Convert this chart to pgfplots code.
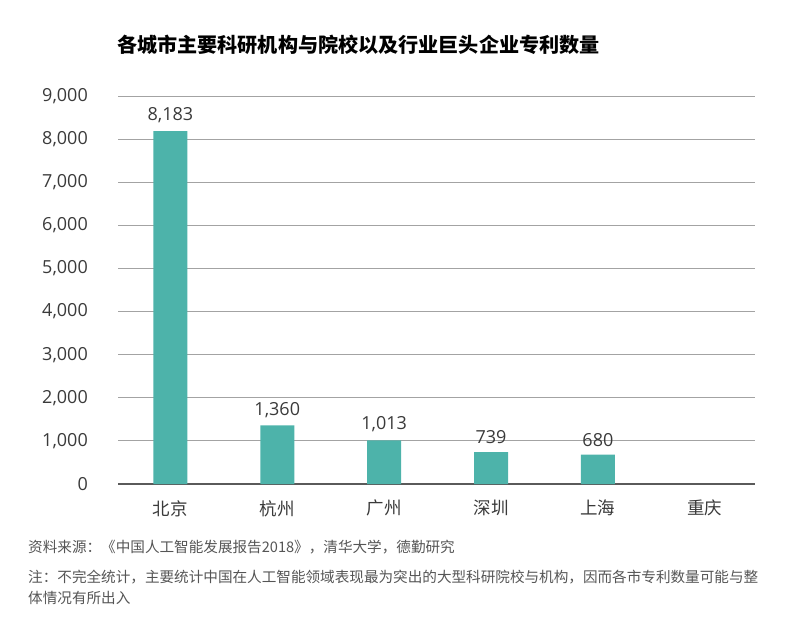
\documentclass[border=0pt]{standalone}
\usepackage{pgfplots}
\pgfplotsset{compat=1.18}
\usepackage{fontspec}
\setmainfont{Open Sans}
\newfontfamily\cjk{Noto Sans CJK SC}
\definecolor{barteal}{HTML}{4DB3AA}
\definecolor{gridgray}{HTML}{A3A3A3}
\definecolor{axisgray}{HTML}{5A5A5A}
\definecolor{txt}{HTML}{3A3A3A}
\definecolor{foot}{HTML}{555555}
\begin{document}
\begin{tikzpicture}[x=1pt,y=1pt]
\path[use as bounding box] (0,0) rectangle (800,641);
\node[anchor=west, inner sep=0pt, text=black] at (117,596) {\cjk\bfseries\fontsize{20.1}{23}\selectfont 各城市主要科研机构与院校以及行业巨头企业专利数量};
\begin{axis}[
  at={(118pt,157pt)}, anchor=south west,
  scale only axis, width=637pt, height=388pt,
  ymin=0, ymax=9000, xmin=-0.49, xmax=5.47,
  ybar, bar width=34pt,
  xtick={0,1,2,3,4,5},
  xticklabels={北京,杭州,广州,深圳,上海,重庆},
  ytick={0,1000,...,9000},
  major tick length=0pt,
  axis x line*=bottom,
  axis y line*=left,
  y axis line style={draw=none},
  x axis line style={draw=axisgray, line width=2.2pt, -},
  ymajorgrids,
  grid style={draw=gridgray, line width=0.9pt},
  /pgf/number format/.cd, 1000 sep={,}, assume math mode=true,
  /pgfplots/.cd,
  yticklabel style={inner sep=0pt, xshift=-30pt, text=txt, font=\fontsize{18}{20}\selectfont},
  xticklabel style={inner sep=0pt, yshift=-16pt, text=txt, font=\cjk\fontsize{17.5}{19}\selectfont},
  nodes near coords,
  nodes near coords style={text=txt, yshift=4.5pt, font=\fontsize{18}{20}\selectfont, /pgf/number format/1000 sep={,}, /pgf/number format/assume math mode=true},
]
\addplot[fill=barteal, draw=none] coordinates {(0,8183) (1,1360) (2,1013) (3,739) (4,680)};
\end{axis}
\begin{scope}[every node/.style={anchor=west, inner sep=0pt, text=foot, font=\cjk\fontsize{14.6}{16}\selectfont}]
\node at (28,94) {资料来源：《中国人工智能发展报告2018》，清华大学，德勤研究};
\node at (28,64) {注：不完全统计，主要统计中国在人工智能领域表现最为突出的大型科研院校与机构，因而各市专利数量可能与整};
\node at (28,43) {体情况有所出入};
\end{scope}
\end{tikzpicture}
\end{document}
